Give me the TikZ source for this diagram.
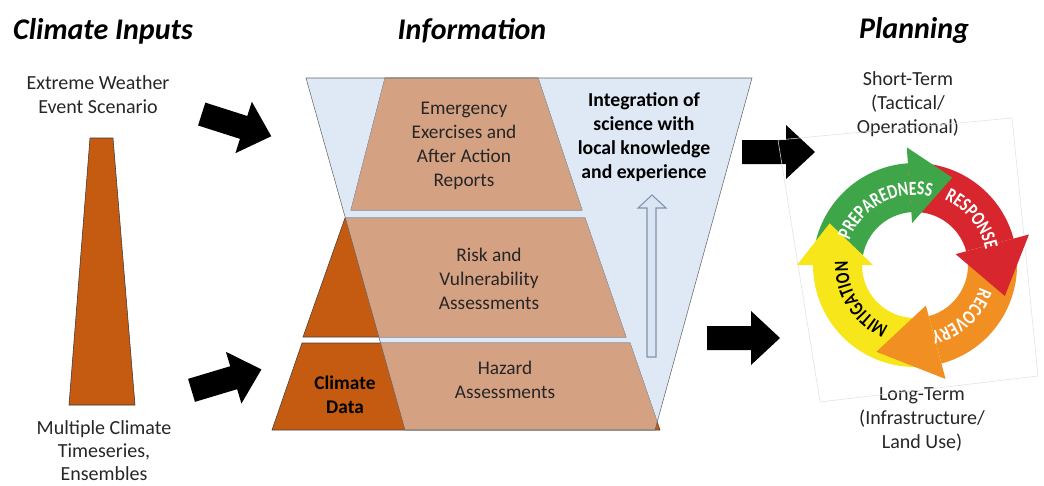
\documentclass[tikz,border=0pt]{standalone}
\usepackage{fontspec}
\setmainfont{Carlito}
\newfontfamily\ringfont{Carlito}[FakeStretch=0.78]
\usetikzlibrary{calc,decorations.text}

\definecolor{funnelblue}{HTML}{DFE8F5}
\definecolor{layerpeach}{HTML}{D5A183}
\definecolor{climorange}{HTML}{C55A11}
\definecolor{upblue}{HTML}{DAE5F3}
\definecolor{upedge}{HTML}{8093AC}
\definecolor{cycgreen}{HTML}{3EA648}
\definecolor{cycred}{HTML}{D7262D}
\definecolor{cycorange}{HTML}{F18F22}
\definecolor{cycyellow}{HTML}{F6E61A}

\def\funnelpath{(306,78) -- (752,78) -- (655,430) -- (405,430) -- cycle}
\newcommand\ringfmt{\ringfont\bfseries\fontsize{15}{15}\selectfont}

\tikzset{
  headtext/.style={font=\fontsize{22.5}{27}\selectfont\bfseries\itshape, inner sep=0pt},
  sidetext/.style={font=\fontsize{15}{18}\selectfont, align=center, inner sep=0pt, text=black!85},
  layertext/.style={font=\fontsize{14.5}{18}\selectfont, align=center, inner sep=0pt, text=black!85},
  ringword/.style={decorate, decoration={text along path, text align=center}},
  blkarrow/.pic={\fill[black] (-36,-12) -- (8,-12) -- (8,-27) -- (37,0) -- (8,27) -- (8,12) -- (-36,12) -- cycle;}
}

\begin{document}
\begin{tikzpicture}[x=0.75pt,y=-0.75pt]
        \useasboundingbox (0,0) rectangle (1044,485);
        % headings
        \node[headtext] (inputs) at (103,31) {Climate Inputs};
        \node[headtext] (info) at (472,31) {Information};
        \node[headtext] (plan) at (914,31) {Planning};
        % climate inputs
        \node[sidetext] (extreme) at (98,95) {Extreme Weather\\Event Scenario};
        \filldraw[fill=climorange, draw=black!80] (90,138) -- (113,138) -- (135,405) -- (69,405) -- cycle;
        \node[sidetext, font=\fontsize{15}{17.3}\selectfont] (multiple) at (104,451) {Multiple Climate\\Timeseries,\\Ensembles};
        \pic[rotate=-17.7] at (236,125) {blkarrow};
        \pic[rotate=16.7] at (226,380) {blkarrow};
        % funnel
        \fill[funnelblue] \funnelpath;
        % layers
        \filldraw[fill=climorange, draw=black!75] (385,78) -- (538,78) -- (582,210) -- (351,210) -- cycle;
        \filldraw[fill=climorange, draw=black!75] (345,218) -- (585,218) -- (626,337) -- (303,337) -- cycle;
        \filldraw[fill=climorange, draw=black!75] (302,343) -- (630,343) -- (660,430) -- (272,430) -- cycle;
        \begin{scope}
            \clip \funnelpath;
            \filldraw[fill=layerpeach, draw=black!35] (385,78) -- (538,78) -- (582,210) -- (351,210) -- cycle;
            \filldraw[fill=layerpeach, draw=black!35] (345,218) -- (585,218) -- (626,337) -- (303,337) -- cycle;
            \filldraw[fill=layerpeach, draw=black!35] (302,343) -- (630,343) -- (660,430) -- (272,430) -- cycle;
        \end{scope}
        \draw[black!60] \funnelpath;
        \node[layertext] (emerg) at (464,146) {Emergency\\Exercises and\\After Action\\Reports};
        \node[layertext] (risk) at (489,279) {Risk and\\Vulnerability\\Assessments};
        \node[layertext] (hazard) at (505,380) {Hazard\\Assessments};
        \node[layertext, font=\fontsize{14.5}{18}\selectfont\bfseries, text=black] (climdata) at (345,395) {Climate\\Data};
        \node[layertext, font=\fontsize{14.8}{18}\selectfont\bfseries, text=black] (integ) at (644,137) {Integration of\\science with\\local knowledge\\and experience};
        \filldraw[fill=upblue, draw=upedge, line width=0.8pt] (647,357) -- (647,208) -- (638,208) -- (652,195) -- (666,208) -- (656,208) -- (656,357) -- cycle;
        % planning
        \pic at (778,152) {blkarrow};
        \pic at (743,338) {blkarrow};
        \node[sidetext] (short) at (908,104) {Short-Term\\(Tactical/\\Operational)};
        \node[sidetext] (long) at (922,419) {Long-Term\\(Infrastructure/\\Land Use)};
        % cycle
        \coordinate (cyc) at (915,265);
        \draw[black!12] (778,140) -- (1012,118) -- (1038,376) -- (820,402) -- cycle;
        \fill[cycgreen] ($(cyc)+(180:102)$) arc[start angle=180, end angle=266, radius=102] -- ($(cyc)+(266:53)$) arc[start angle=266, end angle=180, radius=53] -- cycle;
        \fill[cycred] ($(cyc)+(266:102)$) arc[start angle=266, end angle=345, radius=102] -- ($(cyc)+(345:53)$) arc[start angle=345, end angle=266, radius=53] -- cycle;
        \fill[cycorange] ($(cyc)+(345:102)$) arc[start angle=345, end angle=435, radius=102] -- ($(cyc)+(435:53)$) arc[start angle=435, end angle=345, radius=53] -- cycle;
        \fill[cycyellow] ($(cyc)+(435:102)$) arc[start angle=435, end angle=540, radius=102] -- ($(cyc)+(540:53)$) arc[start angle=540, end angle=435, radius=53] -- cycle;
        \fill[cycgreen] ($(cyc)+(266:118)$) -- ($(cyc)+(293:95)$) -- ($(cyc)+(266:42)$) -- cycle;
        \fill[cycred] ($(cyc)+(345:118)$) -- ($(cyc)+(379:95)$) -- ($(cyc)+(345:42)$) -- cycle;
        \fill[cycorange] ($(cyc)+(435:118)$) -- ($(cyc)+(474:95)$) -- ($(cyc)+(435:42)$) -- cycle;
        \fill[cycyellow] ($(cyc)+(540:118)$) -- ($(cyc)+(566:95)$) -- ($(cyc)+(540:42)$) -- cycle;
        \path[ringword, decoration={text color=white, text={|\ringfmt|PREPAREDNESS}}] ($(cyc)+(192:70)$) arc[start angle=192, end angle=292, radius=70];
        \path[ringword, decoration={text color=white, text={|\ringfmt|RESPONSE}}] ($(cyc)+(271:72)$) arc[start angle=271, end angle=371, radius=72];
        \path[ringword, decoration={text color=white, text={|\ringfmt|RECOVERY}}] ($(cyc)+(-2:69)$) arc[start angle=-2, end angle=98, radius=69];
        \path[ringword, decoration={text color=black, text={|\ringfmt|MITIGATION}}] ($(cyc)+(98:67)$) arc[start angle=98, end angle=198, radius=67];
    \end{tikzpicture}
\end{document}
